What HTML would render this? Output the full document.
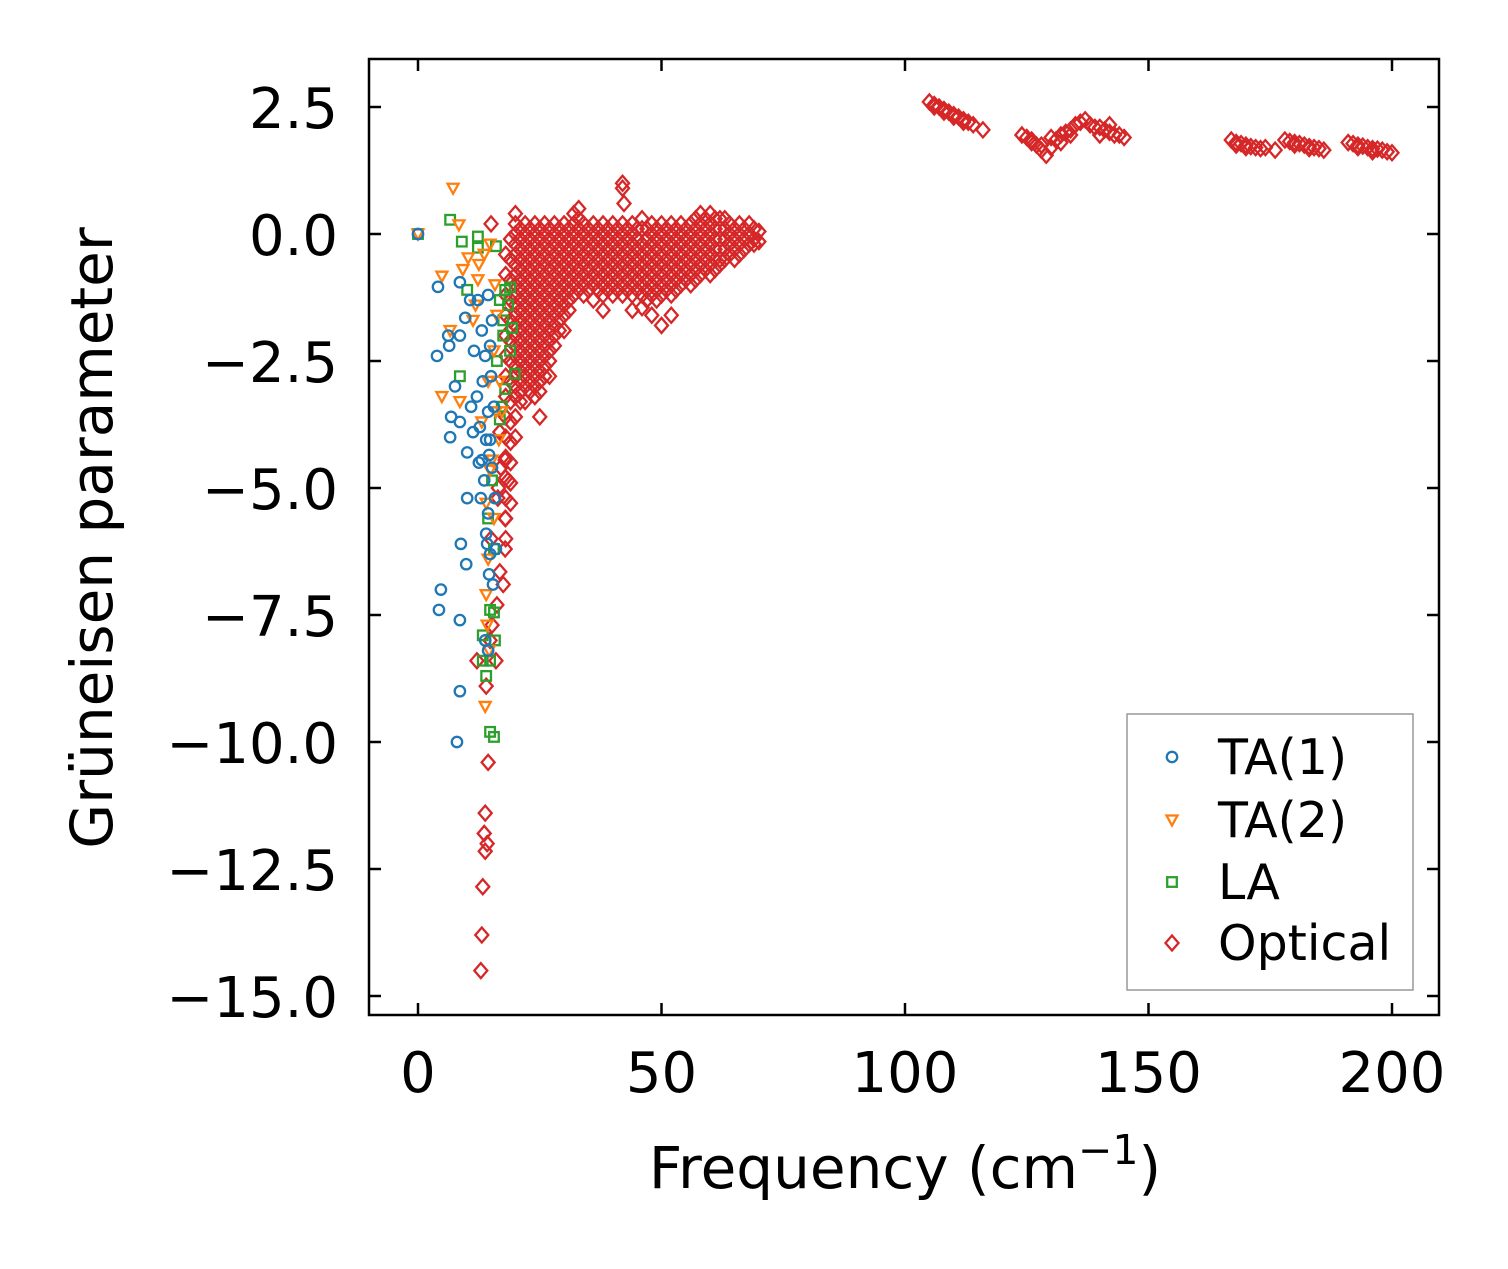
<!DOCTYPE html>
<html><head><meta charset="utf-8"><style>
html,body{margin:0;padding:0;background:#fff;}
svg text{font-family:"DejaVu Sans","Liberation Sans",sans-serif;}
</style></head><body>
<svg id="chart" width="1508" height="1264" viewBox="0 0 1508 1264" xmlns="http://www.w3.org/2000/svg">
<rect width="1508" height="1264" fill="#fff"/>
<g id="marks"></g>
<rect x="369" y="59" width="1070" height="956" fill="none" stroke="#000" stroke-width="2.5"/>
<g id="axes"></g>
<text x="905" y="1188" font-size="58" text-anchor="middle">Frequency (cm<tspan dy="-24" font-size="41">−1</tspan><tspan dy="24">)</tspan></text>
<text transform="translate(112,538) rotate(-90)" font-size="58" text-anchor="middle">Grüneisen parameter</text>
<g>
<rect x="1127" y="714" width="286" height="276" fill="#fff" stroke="#999" stroke-width="1.5"/>
<g id="legend-items"></g>
</g>
</svg>
<script>
const xTicks = [0, 50, 100, 150, 200];
const yTicks = [2.5, 0, -2.5, -5, -7.5, -10, -12.5, -15];
const yTickLabels = ["2.5", "0.0", "−2.5", "−5.0", "−7.5", "−10.0", "−12.5", "−15.0"];
const seriesNames = ["TA(1)", "TA(2)", "LA", "Optical"];

const ta1X = [0,4.1,6.2,3.9,6.4,7.6,8.6,8.6,9.7,6.8,6.6,8.6,10.9,11.3,10.1,10.1,8.8,9.9,4.7,4.3,8.6,8.6,8.0,12.3,13.1,13.8,13.3,14.4,12.7,14,12.5,13.6,12.9,14.4,14,14.8,14.6,15.4,15.8,15.2,14.8,15.6,15,14.8,15.2,14.4,11.5,10.7,12.1,13.1,14.2,16,13.8,14.4,14.6];
const ta1Y = [0,-1.04,-2.0,-2.4,-2.2,-3.0,-2.0,-0.95,-1.65,-3.6,-4.0,-3.7,-3.4,-3.9,-4.3,-5.2,-6.1,-6.5,-7.0,-7.4,-7.6,-9.0,-10.0,-1.3,-1.9,-2.4,-2.9,-3.5,-3.8,-4.05,-4.5,-4.85,-5.2,-5.5,-5.9,-6.3,-6.7,-6.9,-5.2,-4.6,-4.05,-3.4,-2.8,-2.2,-1.7,-1.2,-2.3,-1.3,-3.2,-4.45,-6.1,-6.2,-8.0,-8.2,-4.35];

const ta2X = [0,7.2,8.4,4.9,9.2,10.3,6.6,4.9,8.6,11.3,12.3,13.6,14.8,15.8,16.2,15.6,14.4,16,16.6,14.8,14,14.4,14,14.2,14.6,13.8,16.8,17.2,13.1,15.2,15.6,12.5,11.8];
const ta2Y = [0,0.9,0.18,-0.83,-0.7,-0.47,-1.9,-3.2,-3.3,-1.7,-0.9,-0.4,-0.2,-1.0,-1.6,-2.3,-2.9,-3.5,-4.05,-4.65,-5.3,-6.4,-7.1,-7.7,-8.2,-9.3,-2.9,-3.5,-3.7,-4.45,-5.6,-0.6,-1.4];

const laX = [0,6.6,9,12.3,12.3,10.1,8.6,16,16.8,17.9,18.9,17.5,19.3,18.9,19.9,17.9,16.8,15.2,14.4,15.6,14.8,15.6,13.3,15.8,13.3,14.8,14,14.8,15.6,16.2,17.2,17.5,18.5];
const laY = [0,0.28,-0.15,-0.05,-0.27,-1.1,-2.8,-0.24,-1.3,-1.1,-1.05,-1.7,-1.85,-2.3,-2.75,-3.05,-3.65,-4.85,-5.6,-6.2,-7.4,-7.45,-7.9,-8.0,-8.4,-8.4,-8.7,-9.8,-9.9,-2.5,-3.4,-2.0,-1.4];

const opticalX = [16.8,17.9,18.5,16.4,17.9,17.9,16.8,17.5,16.2,15.2,14.8,12.1,16,14,14.4,13.8,13.6,14.2,13.8,13.3,13.1,12.9,15,16.5,17,
42,42,42.3,33,20,15,48,50,52,38,25,27,36,44,30,22,46,
105,106,107,108,109,110,111,112,113,114,116,106,108,110,112,
124,125,126,127,128,129,130,131,132,133,134,135,136,137,138,139,140,141,142,143,144,145,130,132,134,140,142,128,126,
167,168,169,170,171,172,173,174,176,168,170,
178,179,180,181,182,183,184,185,186,180,183,
191,192,193,194,195,196,197,198,199,200,193,196];
const opticalY = [-3.9,-4.45,-4.85,-5.2,-5.6,-6.2,-6.65,-6.9,-7.3,-7.7,-8.0,-8.4,-8.4,-8.9,-10.4,-11.4,-11.8,-12.0,-12.15,-12.85,-13.8,-14.5,-6.0,-5.0,-4.6,
1.0,0.9,0.6,0.5,0.4,0.2,-1.6,-1.8,-1.6,-1.5,-3.6,-2.8,-1.3,-1.5,-1.9,-3.3,-1.45,
2.6,2.55,2.5,2.45,2.4,2.35,2.3,2.25,2.2,2.15,2.05,2.5,2.4,2.3,2.2,
1.95,1.9,1.85,1.75,1.65,1.55,1.7,1.85,1.95,2.0,2.05,2.15,2.2,2.25,2.15,2.1,2.1,2.05,2.0,1.95,1.95,1.9,1.9,1.8,1.95,1.95,2.15,1.75,1.8,
1.85,1.8,1.78,1.75,1.72,1.7,1.68,1.7,1.65,1.75,1.7,
1.85,1.82,1.8,1.78,1.75,1.72,1.7,1.68,1.65,1.75,1.68,
1.8,1.78,1.75,1.73,1.7,1.68,1.67,1.65,1.62,1.6,1.7,1.62];

// dense optical band: frequency columns and gamma values in each column
const bandX = [18,20,22,24,26,28,30,32,34,36,38,40,42,44,46,48,50,52,54,56,58,60,62,64,66,68,70];
const bandY = [
[-0.4,-0.8,-1.2,-1.6,-2,-2.4,-2.8,-3.2,-3.6,-4,-4.4,-4.8,-5.2,-5.6,-6],
[0.2,0,-0.2,-0.4,-0.6,-0.8,-1,-1.2,-1.4,-1.6,-1.8,-2,-2.2,-2.4,-2.6,-2.8,-3,-3.2,-3.6,-4],
[0.2,0,-0.2,-0.4,-0.6,-0.8,-1,-1.2,-1.4,-1.6,-1.8,-2,-2.2,-2.4,-2.6,-2.8,-3],
[0.2,0,-0.2,-0.4,-0.6,-0.8,-1,-1.2,-1.4,-1.6,-1.8,-2,-2.2,-2.4,-2.6,-2.8,-3,-3.2],
[0.2,0,-0.2,-0.4,-0.6,-0.8,-1,-1.2,-1.4,-1.6,-1.8,-2,-2.2,-2.4,-2.6,-2.8],
[0.2,0,-0.2,-0.4,-0.6,-0.8,-1,-1.2,-1.4,-1.6,-1.8,-2,-2.2],
[0.2,0,-0.2,-0.4,-0.6,-0.8,-1,-1.2,-1.4,-1.6],
[0.4,0.2,0,-0.2,-0.4,-0.6,-0.8,-1,-1.2],
[0.2,0,-0.2,-0.4,-0.6,-0.8,-1,-1.2],
[0.2,0,-0.2,-0.4,-0.6,-0.8,-1],
[0.2,0,-0.2,-0.4,-0.6,-0.8,-1,-1.2],
[0.2,0,-0.2,-0.4,-0.6,-0.8,-1,-1.2],
[0.2,0,-0.2,-0.4,-0.6,-0.8,-1,-1.2],
[0.2,0,-0.2,-0.4,-0.6,-0.8,-1,-1.2],
[0.3,0.1,-0.2,-0.4,-0.6,-0.8,-1,-1.2],
[0.2,0,-0.2,-0.4,-0.6,-0.8,-1,-1.2],
[0.2,0,-0.2,-0.4,-0.6,-0.8,-1,-1.2],
[0.2,0,-0.2,-0.4,-0.6,-0.8,-1,-1.2],
[0.2,0,-0.2,-0.4,-0.6,-0.8,-1],
[0.2,0,-0.2,-0.4,-0.6,-0.8,-1],
[0.4,0.2,0,-0.2,-0.4,-0.6,-0.8],
[0.4,0.2,0,-0.2,-0.4,-0.6,-0.8],
[0.3,0.1,-0.1,-0.3,-0.5,-0.6],
[0.2,0,-0.2,-0.4],
[0.2,0,-0.2,-0.4],
[0.2,0,-0.2],
[0.05,-0.15]];
// second layer of the dense band (points between the columns above)
const band2X = [19,21,23,25,27,29,31,33,35,37,39,41,43,45,47,49,51,53,55,57,59,61,63,65,67,69];
const band2Y = [
[-0.1,-0.5,-0.9,-1.3,-1.7,-2.1,-2.5,-2.9,-3.3,-3.7,-4.1,-4.5,-4.9,-5.3],
[0.1,-0.1,-0.3,-0.5,-0.7,-0.9,-1.1,-1.3,-1.5,-1.7,-1.9,-2.1,-2.3,-2.5,-2.7,-2.9,-3.1,-3.3],
[0.1,-0.1,-0.3,-0.5,-0.7,-0.9,-1.1,-1.3,-1.5,-1.7,-1.9,-2.1,-2.3,-2.5,-2.7,-2.9,-3.1],
[0.1,-0.1,-0.3,-0.5,-0.7,-0.9,-1.1,-1.3,-1.5,-1.7,-1.9,-2.1,-2.3,-2.5,-2.7,-2.9,-3.1],
[0.1,-0.1,-0.3,-0.5,-0.7,-0.9,-1.1,-1.3,-1.5,-1.7,-1.9,-2.1,-2.3,-2.5],
[0.1,-0.1,-0.3,-0.5,-0.7,-0.9,-1.1,-1.3,-1.5,-1.7,-1.9],
[0.1,-0.1,-0.3,-0.5,-0.7,-0.9,-1.1,-1.3,-1.5],
[0.3,0.1,-0.1,-0.3,-0.5,-0.7,-0.9,-1.1],
[0.1,-0.1,-0.3,-0.5,-0.7,-0.9,-1.1],
[0.1,-0.1,-0.3,-0.5,-0.7,-0.9,-1.1],
[0.1,-0.1,-0.3,-0.5,-0.7,-0.9,-1.1],
[0.1,-0.1,-0.3,-0.5,-0.7,-0.9,-1.1],
[0.1,-0.1,-0.3,-0.5,-0.7,-0.9,-1.1],
[0.1,-0.1,-0.3,-0.5,-0.7,-0.9,-1.1],
[0.1,-0.1,-0.3,-0.5,-0.7,-0.9,-1.1,-1.3],
[0.1,-0.1,-0.3,-0.5,-0.7,-0.9,-1.1,-1.3],
[0.1,-0.1,-0.3,-0.5,-0.7,-0.9,-1.1],
[0.1,-0.1,-0.3,-0.5,-0.7,-0.9,-1.1],
[0.1,-0.1,-0.3,-0.5,-0.7,-0.9],
[0.3,0.1,-0.1,-0.3,-0.5,-0.7,-0.9],
[0.3,0.1,-0.1,-0.3,-0.5,-0.7],
[0.3,0.1,-0.1,-0.3,-0.5,-0.7],
[0.3,0.1,-0.1,-0.3,-0.5],
[0.1,-0.1,-0.3,-0.5],
[0.1,-0.1,-0.3],
[0.1,-0.1,-0.2]];

const NS = "http://www.w3.org/2000/svg";
const xS = v => 418 + (v - 0) * 4.87;
const yS = v => 234 - v * 50.8;
const colors = ["#1f77b4", "#ff7f0e", "#2ca02c", "#d62728"];

function marker(kind, cx, cy, parent) {
  let el;
  if (kind === 0) {
    el = document.createElementNS(NS, "circle");
    el.setAttribute("cx", cx); el.setAttribute("cy", cy); el.setAttribute("r", 5.2);
  } else if (kind === 1) {
    el = document.createElementNS(NS, "polygon");
    el.setAttribute("points", `${cx-5.5},${cy-4.5} ${cx+5.5},${cy-4.5} ${cx},${cy+5.5}`);
  } else if (kind === 2) {
    el = document.createElementNS(NS, "rect");
    el.setAttribute("x", cx-4.8); el.setAttribute("y", cy-4.8); el.setAttribute("width", 9.6); el.setAttribute("height", 9.6);
  } else {
    el = document.createElementNS(NS, "polygon");
    el.setAttribute("points", `${cx},${cy-7.5} ${cx+6.5},${cy} ${cx},${cy+7.5} ${cx-6.5},${cy}`);
  }
  el.setAttribute("fill", "none");
  el.setAttribute("stroke", colors[kind]);
  el.setAttribute("stroke-width", "2.3");
  
  
  parent.appendChild(el);
}

const marks = document.getElementById("marks");
for (let i = 0; i < bandX.length; i++) {
  for (let j = 0; j < bandY[i].length; j++) marker(3, xS(bandX[i]), yS(bandY[i][j]), marks);
}
for (let i = 0; i < band2X.length; i++) {
  for (let j = 0; j < band2Y[i].length; j++) marker(3, xS(band2X[i]), yS(band2Y[i][j]), marks);
}
for (let i = 0; i < opticalX.length; i++) marker(3, xS(opticalX[i]), yS(opticalY[i]), marks);
for (let i = 0; i < laX.length; i++) marker(2, xS(laX[i]), yS(laY[i]), marks);
for (let i = 0; i < ta2X.length; i++) marker(1, xS(ta2X[i]), yS(ta2Y[i]), marks);
for (let i = 0; i < ta1X.length; i++) marker(0, xS(ta1X[i]), yS(ta1Y[i]), marks);

const axes = document.getElementById("axes");
function line(x1,y1,x2,y2,name){
  const l = document.createElementNS(NS,"line");
  l.setAttribute("x1",x1);l.setAttribute("y1",y1);l.setAttribute("x2",x2);l.setAttribute("y2",y2);
  l.setAttribute("stroke","#000");l.setAttribute("stroke-width","2.5");
  
  
  axes.appendChild(l);
}
function text(x,y,s,anchor,name){
  const t = document.createElementNS(NS,"text");
  t.setAttribute("x",x);t.setAttribute("y",y);t.setAttribute("font-size","56");t.setAttribute("text-anchor",anchor);
  t.textContent = s;
  
  
  axes.appendChild(t);
}
xTicks.forEach(v => {
  const x = xS(v);
  line(x,1015,x,1003,'x-tick');
  line(x,59,x,71,'x-tick-top');
  text(x,1092,String(v),"middle",'x-tick-label');
});
yTicks.forEach((v,i) => {
  const y = yS(v);
  line(369,y,381,y,'y-tick');
  line(1439,y,1427,y,'y-tick-right');
  text(338,y+21,yTickLabels[i],"end",'y-tick-label');
});

const leg = document.getElementById("legend-items");
const legY = [757, 820, 882, 943];
seriesNames.forEach((n,i) => {
  marker(i, 1172, legY[i], leg);
  const t = document.createElementNS(NS,"text");
  t.setAttribute("x",1218);t.setAttribute("y",legY[i]+17);t.setAttribute("font-size","49");
  t.textContent = n;
  
  
  leg.appendChild(t);
});
</script>
</body></html>
